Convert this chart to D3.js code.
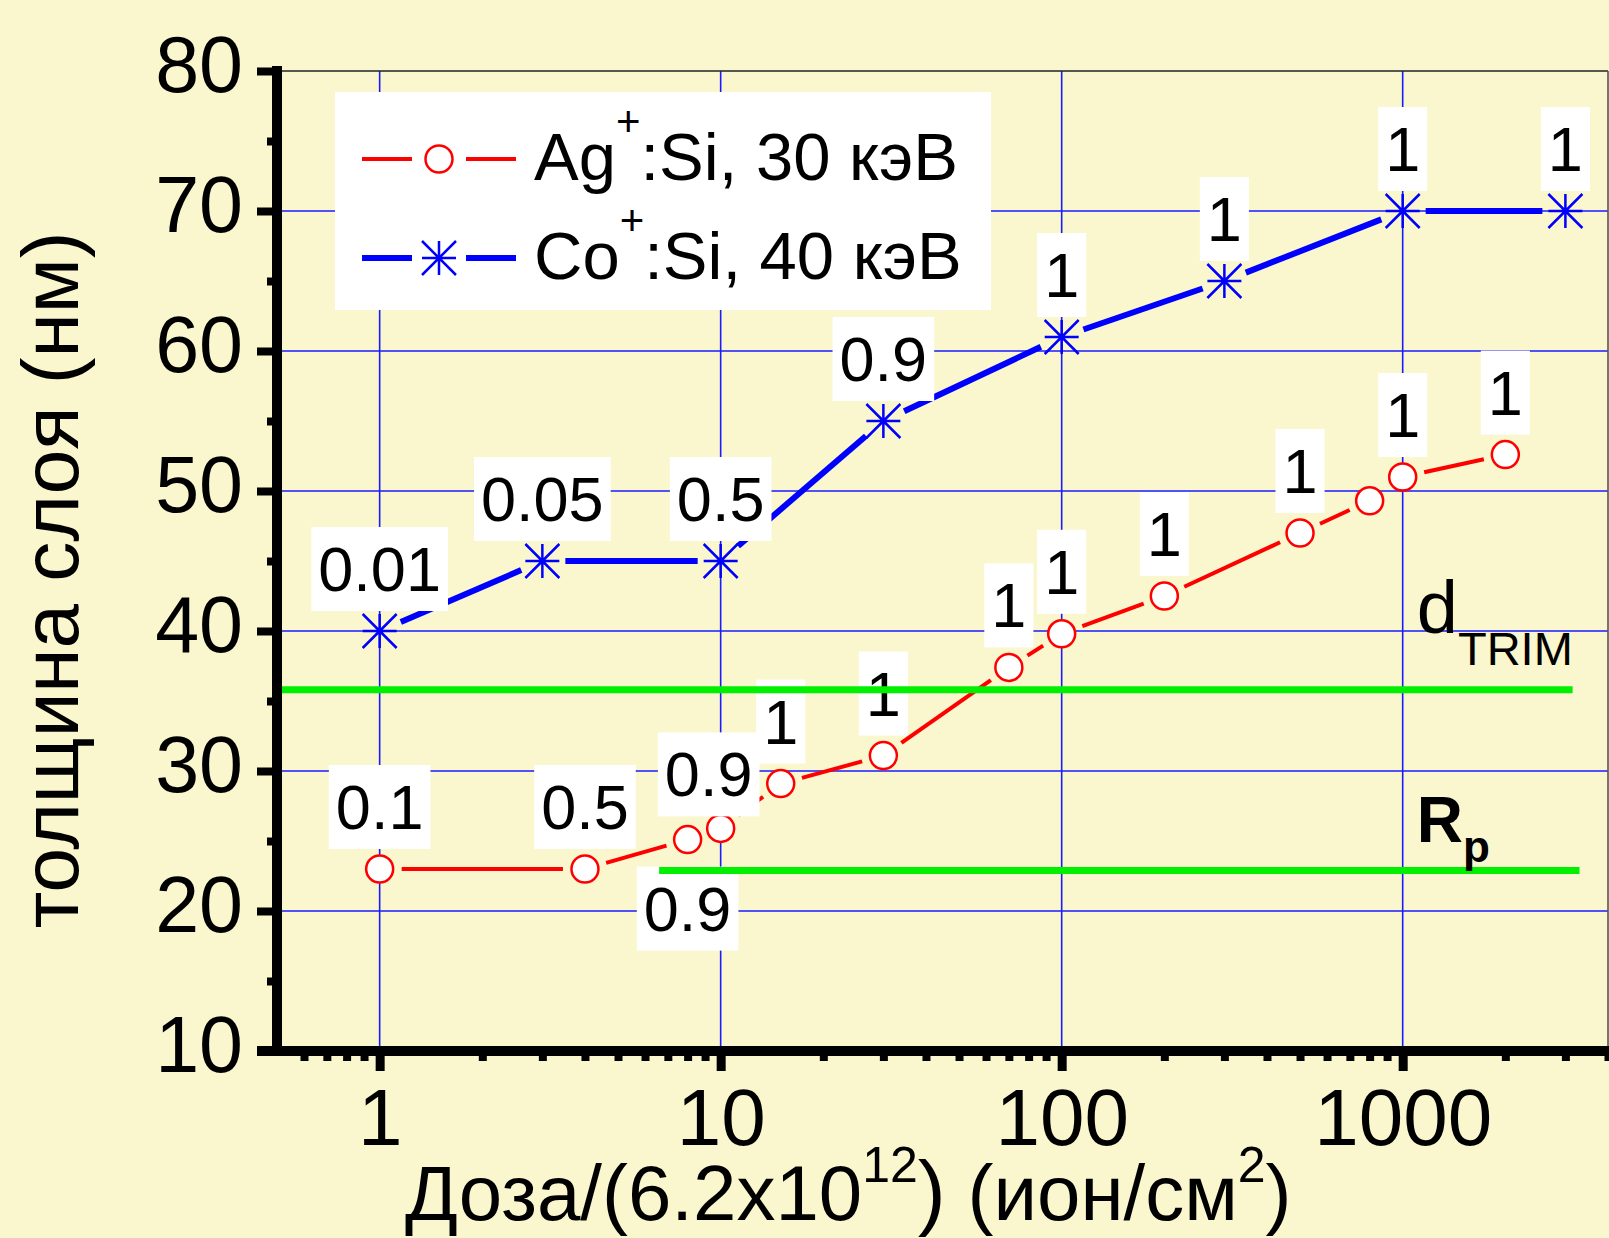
<!DOCTYPE html>
<html>
<head>
<meta charset="utf-8">
<script src="https://cdnjs.cloudflare.com/ajax/libs/d3/7.8.5/d3.min.js"></script>
<style>
    body { margin: 0; background: #FAF7CE; }
    svg { display: block; }
    text { font-family: "Liberation Sans", Arial, sans-serif; fill: #000; }
</style>
</head>
<body>
<svg width="1609" height="1238"></svg>
<script>
// Ag+:Si, 30 keV
let agDose = [1, 4, 8, 10, 15, 30, 70, 100, 200, 500, 800, 1000, 2000]
let agThick = [23, 23, 25.1, 25.9, 29.1, 31.1, 37.4, 39.8, 42.5, 47, 49.3, 51, 52.6]
let agLabels = ["0.1", "0.5", "0.9", "0.9", "1", "1", "1", "1", "1", "1", "", "1", "1"]
let agLabelSide = ["up", "up", "down", "upleft", "up", "up", "up", "up", "up", "up", "up", "up", "up"]

// Co+:Si, 40 keV
let coDose = [1, 3, 10, 30, 100, 300, 1000, 3000]
let coThick = [40, 45, 45, 55, 61, 65, 70, 70]
let coLabels = ["0.01", "0.05", "0.5", "0.9", "1", "1", "1", "1"]

// horizontal reference levels
let refNames = ["d", "R"]
let refSubs = ["TRIM", "p"]
let refLevels = [35.8, 22.9]
let refFrom = [0.5, 6.6]
let refTo = [3150, 3300]

let xTicks = [1, 10, 100, 1000]
let yTicks = [10, 20, 30, 40, 50, 60, 70, 80]

var svg = d3.select("svg"),
    width = 1609,
    height = 1238;

var x = d3.scaleLog().domain([0.5, 4000]).range([277, 1608]),
    y = d3.scaleLinear().domain([10, 80]).range([1051, 71]);

// minor ticks
var xMinor = [];
[0.1, 1, 10, 100, 1000].forEach(function (dec) {
    for (var k = 2; k <= 9; k++) {
        var v = +(dec * k).toPrecision(3);
        if (v > 0.5 && v <= 4000 && xTicks.indexOf(v) < 0) xMinor.push(v);
    }
});
var yMinor = d3.range(15, 80, 10);

// grid
var grid = svg.append("g").attr("stroke", "#1a1aff").attr("stroke-width", 1.6);
grid.selectAll(".gx")
    .data(xTicks)
    .enter().append("line")
    .attr("x1", function (d) { return x(d); })
    .attr("x2", function (d) { return x(d); })
    .attr("y1", y(80))
    .attr("y2", y(10));
grid.selectAll(".gy")
    .data(yTicks.filter(function (d) { return d > 10 && d < 80; }))
    .enter().append("line")
    .attr("x1", x(0.5))
    .attr("x2", x(4000))
    .attr("y1", function (d) { return y(d); })
    .attr("y2", function (d) { return y(d); });

// frame top/right
svg.append("line").attr("x1", x(0.5)).attr("x2", x(4000)).attr("y1", y(80)).attr("y2", y(80))
    .attr("stroke", "#222").attr("stroke-width", 1.6);
svg.append("line").attr("x1", x(4000)).attr("x2", x(4000)).attr("y1", y(80)).attr("y2", y(10))
    .attr("stroke", "#555").attr("stroke-width", 1.6);

// series lines, with a gap around every marker
function gappedSegments(xs, ys, gap) {
    var pts = xs.map(function (d, i) { return [x(d), y(ys[i])]; });
    var segs = [];
    for (var i = 0; i < pts.length - 1; i++) {
        var dx = pts[i + 1][0] - pts[i][0], dy = pts[i + 1][1] - pts[i][1];
        var len = Math.sqrt(dx * dx + dy * dy);
        if (len <= 2 * gap + 4) continue;
        var ux = dx / len, uy = dy / len;
        segs.push([pts[i][0] + ux * gap, pts[i][1] + uy * gap,
                   pts[i + 1][0] - ux * gap, pts[i + 1][1] - uy * gap]);
    }
    return segs;
}

svg.append("g").selectAll("line")
    .data(gappedSegments(coDose, coThick, 23))
    .enter().append("line")
    .attr("x1", function (d) { return d[0]; })
    .attr("y1", function (d) { return d[1]; })
    .attr("x2", function (d) { return d[2]; })
    .attr("y2", function (d) { return d[3]; })
    .attr("stroke", "#0000FF")
    .attr("stroke-width", 6);

svg.append("g").selectAll("line")
    .data(gappedSegments(agDose, agThick, 22))
    .enter().append("line")
    .attr("x1", function (d) { return d[0]; })
    .attr("y1", function (d) { return d[1]; })
    .attr("x2", function (d) { return d[2]; })
    .attr("y2", function (d) { return d[3]; })
    .attr("stroke", "#FF0000")
    .attr("stroke-width", 4);

// markers
var starPath = "M-17,0H17M0,-17V17M-17,-17L17,17M-17,17L17,-17";
svg.append("g").selectAll("path")
    .data(coDose)
    .enter().append("path")
    .attr("transform", function (d, i) { return "translate(" + x(d) + "," + y(coThick[i]) + ")"; })
    .attr("d", starPath)
    .attr("fill", "none")
    .attr("stroke", "#0000FF")
    .attr("stroke-width", 2.5);

svg.append("g").selectAll("circle")
    .data(agDose)
    .enter().append("circle")
    .attr("cx", function (d) { return x(d); })
    .attr("cy", function (d, i) { return y(agThick[i]); })
    .attr("r", 13.5)
    .attr("fill", "#fff")
    .attr("stroke", "#FF0000")
    .attr("stroke-width", 2.5);

// point labels in white boxes
function addLabel(px, py, txt, side) {
    if (!txt) return;
    var lg = svg.append("g");
    var r = lg.append("rect").attr("fill", "#fff");
    var base = side == "down" ? py + 91 : py - 40;
    if (side == "upleft") { px -= 12; base += 8; }
    var t = lg.append("text")
        .attr("x", px)
        .attr("y", base)
        .attr("text-anchor", "middle")
        .attr("font-size", "63px")
        .text(txt);
    var bb = t.node().getBBox();
    var w = bb.width + 14;
    r.attr("x", px - w / 2)
        .attr("y", base - 64)
        .attr("width", w)
        .attr("height", 84);
}
coDose.forEach(function (d, i) { addLabel(x(d), y(coThick[i]), coLabels[i], "up"); });
agDose.forEach(function (d, i) { addLabel(x(d), y(agThick[i]), agLabels[i], agLabelSide[i]); });

// reference levels (green), drawn over the label boxes
svg.selectAll(".ref")
    .data(refLevels)
    .enter().append("line")
    .attr("class", "ref")
    .attr("x1", function (d, i) { return x(refFrom[i]); })
    .attr("x2", function (d, i) { return x(refTo[i]); })
    .attr("y1", function (d) { return y(d); })
    .attr("y2", function (d) { return y(d); })
    .attr("stroke", "#00F000")
    .attr("stroke-width", 7);

// d_TRIM label
var dl = svg.append("text")
    .attr("x", x(1100))
    .attr("y", y(refLevels[0]) - 57)
    .attr("font-size", "74px")
    .text(refNames[0]);
dl.append("tspan").attr("font-size", "47px").attr("dy", 32).text(refSubs[0]);

// R_p label
var rl = svg.append("text")
    .attr("x", x(1100))
    .attr("y", y(refLevels[1]) - 28)
    .attr("font-size", "64px")
    .attr("font-weight", "bold")
    .text(refNames[1]);
rl.append("tspan").attr("font-size", "44px").attr("dy", 20).text(refSubs[1]);

// axes
var fontTick = "Liberation Sans, Arial, sans-serif";

var ax = svg.append("g")
    .attr("transform", "translate(0," + y(10) + ")")
    .call(d3.axisBottom(x).tickValues(xTicks).tickFormat(d3.format("d"))
        .tickSize(20).tickPadding(17).tickSizeOuter(0));
ax.select(".domain").remove();
ax.selectAll(".tick line").attr("stroke", "#000").attr("stroke-width", 9);
ax.selectAll(".tick text").attr("font-size", "80px").attr("font-family", fontTick);

var axm = svg.append("g")
    .attr("transform", "translate(0," + y(10) + ")")
    .call(d3.axisBottom(x).tickValues(xMinor).tickFormat("").tickSize(10).tickSizeOuter(0));
axm.select(".domain").remove();
axm.selectAll(".tick line").attr("stroke", "#000").attr("stroke-width", 8);

var ay = svg.append("g")
    .attr("transform", "translate(" + x(0.5) + ",0)")
    .call(d3.axisLeft(y).tickValues(yTicks).tickSize(20).tickPadding(14).tickSizeOuter(0));
ay.select(".domain").remove();
ay.selectAll(".tick line").attr("stroke", "#000").attr("stroke-width", 8);
ay.selectAll(".tick text").attr("font-size", "79px").attr("font-family", fontTick).attr("dy", "0.26em");

var aym = svg.append("g")
    .attr("transform", "translate(" + x(0.5) + ",0)")
    .call(d3.axisLeft(y).tickValues(yMinor).tickFormat("").tickSize(10).tickSizeOuter(0));
aym.select(".domain").remove();
aym.selectAll(".tick line").attr("stroke", "#000").attr("stroke-width", 8);

// thick axis lines
svg.append("line").attr("x1", x(0.5) - 20).attr("x2", width).attr("y1", y(10)).attr("y2", y(10))
    .attr("stroke", "#000").attr("stroke-width", 10);
svg.append("line").attr("x1", x(0.5)).attr("x2", x(0.5)).attr("y1", y(80) - 5).attr("y2", y(10) + 5)
    .attr("stroke", "#000").attr("stroke-width", 10);

// legend
var legNames = [["Ag", "+", ":Si, 30 кэВ"], ["Co", "+", ":Si, 40 кэВ"]];
var leg = svg.append("g");
leg.append("rect").attr("x", 335).attr("y", 92).attr("width", 656).attr("height", 218).attr("fill", "#fff");

function legRow(cy, color, lw, marker, name) {
    leg.append("line").attr("x1", 362).attr("x2", 412).attr("y1", cy).attr("y2", cy)
        .attr("stroke", color).attr("stroke-width", lw);
    leg.append("line").attr("x1", 466).attr("x2", 516).attr("y1", cy).attr("y2", cy)
        .attr("stroke", color).attr("stroke-width", lw);
    if (marker == "circle") {
        leg.append("circle").attr("cx", 439).attr("cy", cy).attr("r", 13.5)
            .attr("fill", "#fff").attr("stroke", color).attr("stroke-width", 2.5);
    } else {
        leg.append("path").attr("transform", "translate(439," + cy + ")").attr("d", starPath)
            .attr("fill", "none").attr("stroke", color).attr("stroke-width", 2.5);
    }
    var t = leg.append("text").attr("x", 534).attr("y", cy + 21).attr("font-size", "67px");
    t.append("tspan").text(name[0]);
    t.append("tspan").attr("font-size", "42px").attr("dy", -44).text(name[1]);
    t.append("tspan").attr("dy", 44).text(name[2]);
}
legRow(159, "#FF0000", 4, "circle", legNames[0]);
legRow(258, "#0000FF", 6, "star", legNames[1]);

// axis titles
var xt = svg.append("text")
    .attr("x", 405)
    .attr("y", 1220)
    .attr("font-size", "78px");
xt.append("tspan").text("Доза/(6.2x10");
xt.append("tspan").attr("font-size", "50px").attr("dy", -38).text("12");
xt.append("tspan").attr("font-size", "84px").attr("dy", 38).text(")");
xt.append("tspan").text(" (ион/см");
xt.append("tspan").attr("font-size", "50px").attr("dy", -38).text("2");
xt.append("tspan").attr("dy", 38).text(")");

svg.append("text")
    .attr("transform", "translate(78,580) rotate(-90)")
    .attr("text-anchor", "middle")
    .attr("font-size", "80px")
    .text("толщина слоя (нм)");
</script>
</body>
</html>
